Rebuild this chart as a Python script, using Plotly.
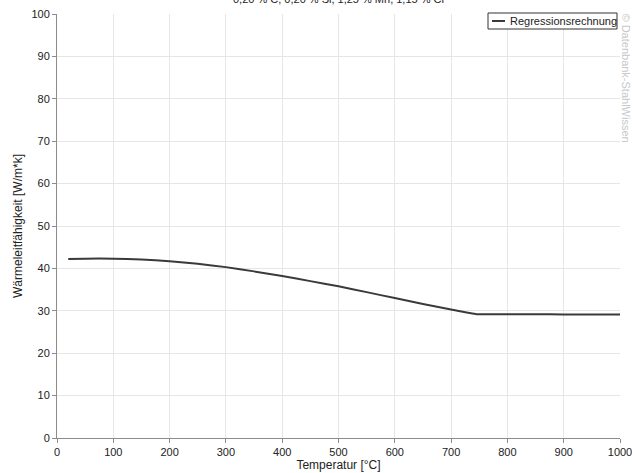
import plotly.graph_objects as go

temp = [20, 50, 100, 150, 200, 250, 300, 350, 400, 450, 500, 550, 600, 650, 700, 745, 800, 850, 900, 950, 1000]
lambda_vals = [42.2, 42.3, 42.3, 42.1, 41.7, 41.1, 40.3, 39.3, 38.2, 37.0, 35.8, 34.4, 33.0, 31.6, 30.3, 29.2, 29.2, 29.2, 29.15, 29.1, 29.1]

x_ticks = list(range(0, 1001, 100))
y_ticks = list(range(0, 101, 10))

font = "Liberation Sans, Arial, sans-serif"
L, R, T, B = 57, 12, 14, 35
PW, PH = 632 - L - R, 473 - T - B

fig = go.Figure()
fig.add_trace(go.Scatter(x=temp, y=lambda_vals, mode="lines", name="Regressionsrechnung",
                         showlegend=False,
                         line=dict(color="#3a3a3a", width=2, shape="spline", smoothing=0.3)))

axis_common = dict(showgrid=True, gridcolor="#e6e6e6", gridwidth=1, showline=True,
                   linecolor="#8c8c8c", linewidth=1, ticks="outside", ticklen=4,
                   tickcolor="#8c8c8c", zeroline=False, automargin=False,
                   ticklabeloverflow="allow",
                   tickfont=dict(family=font, size=11, color="#222"))

fig.update_layout(
    width=632, height=473,
    margin=dict(l=L, r=R, t=T, b=B),
    paper_bgcolor="white", plot_bgcolor="white",
    font=dict(family=font, size=11, color="#222"),
    showlegend=False,
    xaxis=dict(range=[0, 1000], tickvals=x_ticks,
               title=dict(text="Temperatur [°C]", font=dict(family=font, size=12), standoff=2),
               **axis_common),
    yaxis=dict(range=[0, 100], tickvals=y_ticks,
               title=dict(text="Wärmeleitfähigkeit [W/m*k]", font=dict(family=font, size=12), standoff=6),
               **axis_common),
)

# title (cut off at the top edge as in the reference)
fig.add_annotation(text="0,20 % C, 0,20 % Si, 1,25 % Mn, 1,15 % Cr", xref="paper", yref="paper",
                   x=0.5, y=1.0 + 7/PH, xanchor="center", yanchor="bottom", showarrow=False,
                   font=dict(family=font, size=11, color="#222"))
# watermark
fig.add_annotation(text="© Datenbank-StahlWissen", xref="paper", yref="paper",
                   x=1.0 + 6/PW, y=1.0 + 3/PH, xanchor="center", yanchor="top", textangle=90,
                   showarrow=False, font=dict(family=font, size=11, color="#c8c8c8"))

# legend box (drawn manually to match the compact style)
lx0, lx1 = 1.0 - 132/PW, 1.0 - 3/PW
ly0, ly1 = 1.0 - 15/PH, 1.0 + 1/PH
fig.add_shape(type="rect", xref="paper", yref="paper", x0=lx0, x1=lx1, y0=ly0, y1=ly1,
              line=dict(color="#333", width=1), fillcolor="white", layer="above")
fig.add_shape(type="line", xref="paper", yref="paper", x0=lx0 + 4/PW, x1=lx0 + 17/PW,
              y0=(ly0 + ly1) / 2, y1=(ly0 + ly1) / 2, line=dict(color="#3a3a3a", width=2), layer="above")
fig.add_annotation(text="Regressionsrechnung", xref="paper", yref="paper",
                   x=lx0 + 20/PW, y=(ly0 + ly1) / 2, xanchor="left", yanchor="middle", showarrow=False,
                   font=dict(family=font, size=11, color="#222"))

fig.write_html("out.html", config={"displayModeBar": False},
               post_script="document.body.style.margin='0';")
